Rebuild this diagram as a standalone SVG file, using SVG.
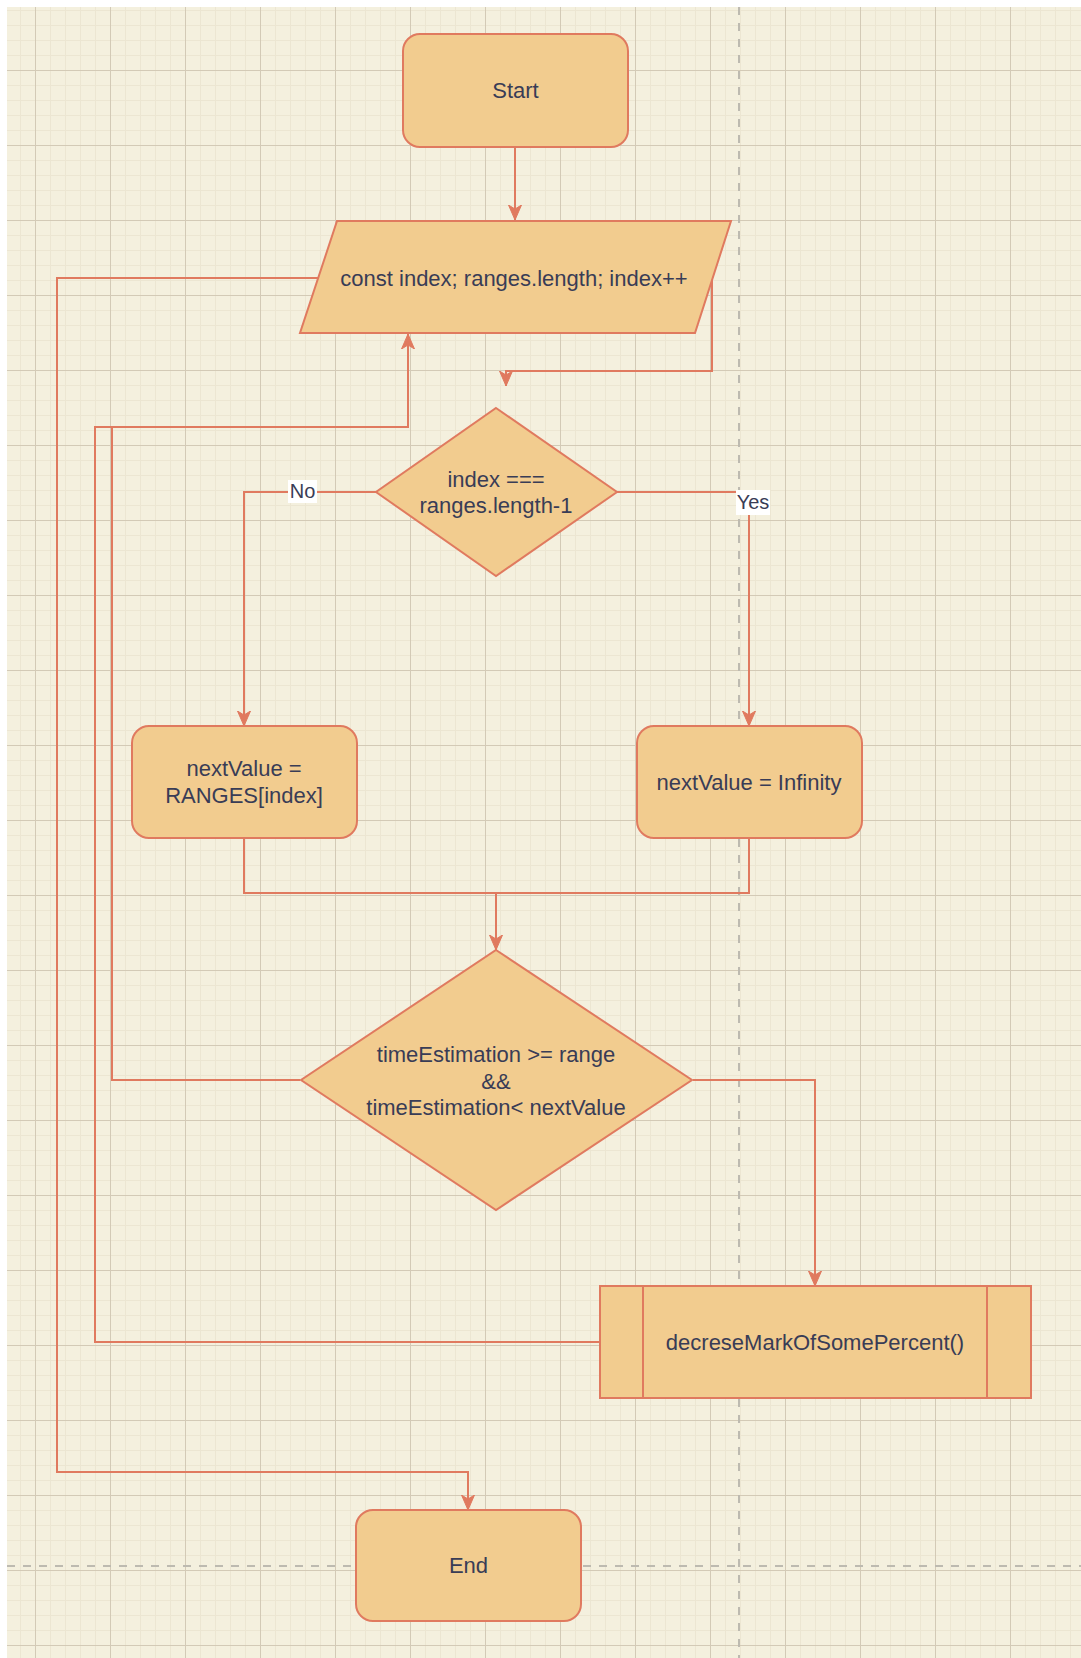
<svg xmlns="http://www.w3.org/2000/svg" width="1081" height="1658" viewBox="0 0 1081 1658">
<style>
.node{fill:#F2CC8F;stroke:#E07A5F;stroke-width:2}
.edge{fill:none;stroke:#E07A5F;stroke-width:2}
.t{font-family:"Liberation Sans",Arial,sans-serif;font-size:22px;fill:#393C56;text-anchor:middle}
.lbl{font-family:"Liberation Sans",Arial,sans-serif;font-size:20px;fill:#393C56;text-anchor:middle}
.page{fill:none;stroke:#bdbab0;stroke-width:2;stroke-dasharray:8 8}
</style>
<defs>
<pattern id="grid" x="35" y="70" width="75" height="75" patternUnits="userSpaceOnUse">
<path d="M15.5,0V75M30.5,0V75M45.5,0V75M60.5,0V75M0,15.5H75M0,30.5H75M0,45.5H75M0,60.5H75" stroke="#ece6d2" stroke-width="1" fill="none"/>
<path d="M0.5,0V75M0,0.5H75" stroke="#d3cab6" stroke-width="1" fill="none"/>
</pattern>
<marker id="arr" markerUnits="userSpaceOnUse" markerWidth="16" markerHeight="16" viewBox="0 0 16 16" refX="15" refY="8" orient="auto">
<path d="M0,1.5 L15,8 L0,14.5 L4,8 Z" fill="#E07A5F" stroke="#E07A5F" stroke-width="1"/>
</marker>
</defs>
<rect x="0" y="0" width="1081" height="1658" fill="#ffffff"/>
<rect x="7" y="7" width="1074" height="1651" fill="#F4F0DE"/>
<rect x="7" y="7" width="1074" height="1651" fill="url(#grid)"/>
<path class="page" d="M739,7V1658"/>
<path class="page" d="M7,1566H1081"/>

<g id="connectors">
<path class="edge" d="M515,147V220" marker-end="url(#arr)"/>
<path class="edge" d="M318,278H57V1472H468V1510" marker-end="url(#arr)"/>
<path class="edge" d="M712,280V371H506V386" marker-end="url(#arr)"/>
<path class="edge" d="M376,492H244V726" marker-end="url(#arr)"/>
<path class="edge" d="M617,492H749V726" marker-end="url(#arr)"/>
<path class="edge" d="M244,838V893H749V838"/>
<path class="edge" d="M496,893V950" marker-end="url(#arr)"/>
<path class="edge" d="M300,1080H112V427H408V334" marker-end="url(#arr)"/>
<path class="edge" d="M693,1080H815V1286" marker-end="url(#arr)"/>
<path class="edge" d="M600,1342H95V427H112"/>
<g id="label-no">
<rect x="288" y="480" width="29" height="23" fill="#ffffff"/>
<text class="lbl" x="302.5" y="498">No</text>
</g>
<g id="label-yes">
<rect x="736" y="490" width="34" height="25" fill="#ffffff"/>
<text class="lbl" x="753" y="509">Yes</text>
</g>
</g>

<g id="start">
<rect class="node" x="403" y="34" width="225" height="113" rx="17"/>
<text class="t" x="515.5" y="98">Start</text>
</g>
<g id="loop">
<polygon class="node" points="337,221 731,221 695,333 300,333"/>
<text class="t" x="514" y="286">const index; ranges.length; index++</text>
</g>
<g id="check-last">
<polygon class="node" points="496,408 617,492 496,576 376,492"/>
<text class="t" x="496" y="487">index ===</text>
<text class="t" x="496" y="513">ranges.length-1</text>
</g>
<g id="next-range">
<rect class="node" x="132" y="726" width="225" height="112" rx="17"/>
<text class="t" x="244" y="776">nextValue =</text>
<text class="t" x="244" y="803">RANGES[index]</text>
</g>
<g id="next-infinity">
<rect class="node" x="637" y="726" width="225" height="112" rx="17"/>
<text class="t" x="749" y="790">nextValue = Infinity</text>
</g>
<g id="check-range">
<polygon class="node" points="496,950 692,1080 496,1210 301,1080"/>
<text class="t" x="496" y="1062">timeEstimation &gt;= range</text>
<text class="t" x="496" y="1089">&amp;&amp;</text>
<text class="t" x="496" y="1115">timeEstimation&lt; nextValue</text>
</g>
<g id="decrease">
<rect class="node" x="600" y="1286" width="431" height="112"/>
<path class="node" d="M643,1286V1398M987,1286V1398"/>
<text class="t" x="815" y="1350">decreseMarkOfSomePercent()</text>
</g>
<g id="end">
<rect class="node" x="356" y="1510" width="225" height="111" rx="17"/>
<text class="t" x="468.5" y="1573">End</text>
</g>
</svg>
